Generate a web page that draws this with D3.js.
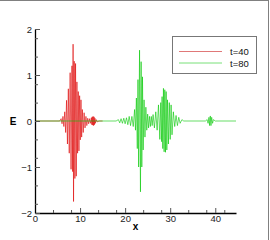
<!DOCTYPE html>
<html>
<head>
<meta charset="utf-8">
<script src="https://cdn.jsdelivr.net/npm/d3@7"></script>
<style>
  body { margin: 0; background: #fff; }
  svg { display: block; font-family: "Liberation Sans", Arial, sans-serif; }
</style>
</head>
<body>
<svg id="chart"></svg>
<script>
// chart size
const W = 270, H = 240;

// wave at t=40 (x, E), peak by peak
var redX = [0, 5.5, 5.8, 6.0, 6.2, 6.4, 6.6, 6.8, 7.0, 7.2, 7.4, 7.6, 7.8, 8.0, 8.2, 8.35, 8.45, 8.55, 8.7, 8.85,
  9.0, 9.15, 9.3, 9.45, 9.6, 9.75, 9.9, 10.05, 10.2, 10.35, 10.5, 10.7, 10.9, 11.1, 11.3, 11.5, 11.7, 11.9,
  12.1, 12.3, 12.5, 12.6, 12.7, 12.8, 12.9, 13.0, 13.1, 13.2, 13.3, 13.4, 13.6, 13.8, 14.2, 15];
var redE = [0, 0, 0.05, -0.06, 0.1, -0.12, 0.2, -0.25, 0.45, -0.5, 0.7, -0.7, 1.05, -1.05, 1.2, -1.1, 1.67, -1.75, 1.3, -1.25,
  1.25, -1.2, 0.85, -0.7, 0.64, -0.65, 0.55, -0.41, 0.46, -0.35, 0.25, -0.25, 0.18, -0.15, 0.1, -0.1, 0.06, -0.06,
  0.05, -0.05, 0.07, -0.08, 0.09, -0.09, 0.1, -0.1, 0.09, -0.08, 0.06, -0.05, 0.03, -0.02, 0, 0];

// wave at t=80
var greenX = [0, 18, 18.5, 18.8, 19.1, 19.4, 19.7, 20.0, 20.3, 20.6, 20.9, 21.2, 21.5, 21.8, 22.1, 22.3, 22.5, 22.7, 22.85, 23.0,
  23.2, 23.4, 23.55, 23.7, 23.85, 24.0, 24.2, 24.4, 24.6, 24.8, 25.0, 25.2, 25.4, 25.6, 25.8, 26.0, 26.2, 26.5, 26.8, 27.1,
  27.4, 27.7, 27.9, 28.1, 28.2, 28.35, 28.5, 28.65, 28.8, 28.95, 29.1, 29.25, 29.4, 29.6, 29.8, 30.0, 30.2, 30.4, 30.7, 31.0,
  31.3, 31.6, 31.9, 32.2, 32.6, 33, 37.8, 38.2, 38.4, 38.6, 38.75, 38.9, 39.05, 39.2, 39.4, 39.6, 40, 44.6];
var greenE = [0, 0, 0.03, -0.04, 0.05, -0.05, 0.06, -0.06, 0.07, -0.08, 0.1, -0.1, 0.1, -0.12, 0.25, -0.2, 0.5, -0.6, 0.9, -1.0,
  1.54, -1.54, 1.29, -1.0, 0.96, -0.63, 0.46, -0.35, 0.3, -0.2, 0.15, -0.15, 0.1, -0.12, 0.1, -0.1, 0.14, -0.15, 0.2, -0.2,
  0.35, -0.4, 0.4, -0.45, 0.53, -0.6, 0.71, -0.67, 0.68, -0.68, 0.64, -0.63, 0.46, -0.5, 0.4, -0.4, 0.35, -0.3, 0.2, -0.12,
  0.12, -0.1, 0.08, -0.05, 0.03, 0, 0, 0.03, -0.05, 0.08, -0.1, 0.11, -0.1, 0.08, -0.05, 0.03, 0, 0];

// ticks
var xMajor = [0, 10, 20, 30, 40],
    xMinor = [4, 8, 14, 18, 24, 28, 34, 38, 42];
var yMajor = [-2, -1, 0, 1, 2],
    yMinor = [-1.8, -1.4, -0.8, -0.4, 0.4, 0.8, 1.4, 1.8];

var seriesNames = ["t=40", "t=80"],
    seriesColors = ["#dd0000", "#00c800"],
    legendColors = ["#e07878", "#78e078"];

var xScale = d3.scaleLinear().domain([0, 44.6]).range([35, 236]),
    yScale = d3.scaleLinear().domain([-2, 2]).range([213, 29]);

var svg = d3.select("#chart")
    .attr("width", W)
    .attr("height", H);

// outer frame (only top and right edges show)
svg.append("rect")
    .attr("x", -2).attr("y", 0.5)
    .attr("width", 270.5).attr("height", 250)
    .attr("fill", "none")
    .attr("stroke", "#808080");

// data lines
var line = d3.line()
    .x(function(d) { return xScale(d[0]); })
    .y(function(d) { return yScale(d[1]); });

var series = [d3.zip(redX, redE), d3.zip(greenX, greenE)];
svg.selectAll(".wave")
    .data(series)
  .enter().append("path")
    .attr("class", "wave")
    .attr("d", line)
    .attr("fill", "none")
    .attr("stroke", function(d, i) { return seriesColors[i]; })
    .attr("stroke-width", 0.6);

// x axis, ticks pointing in
var xAxisG = svg.append("g")
    .attr("transform", "translate(0," + yScale(-2) + ")")
    .call(d3.axisBottom(xScale).tickValues(xMajor).tickSizeInner(-5).tickSizeOuter(0).tickPadding(2).tickFormat(d3.format("d")));
xAxisG.selectAll(".minor")
    .data(xMinor)
  .enter().append("line")
    .attr("class", "minor")
    .attr("x1", function(d) { return xScale(d) + 0.5; })
    .attr("x2", function(d) { return xScale(d) + 0.5; })
    .attr("y1", 0).attr("y2", -3)
    .attr("stroke", "#555");

// y axis
var yAxisG = svg.append("g")
    .attr("transform", "translate(" + xScale(0) + ",0)")
    .call(d3.axisLeft(yScale).tickValues(yMajor).tickSizeInner(-5).tickSizeOuter(0).tickPadding(3).tickFormat(d3.format("d")));
yAxisG.selectAll(".minor")
    .data(yMinor)
  .enter().append("line")
    .attr("class", "minor")
    .attr("x1", 0).attr("x2", 3)
    .attr("y1", function(d) { return yScale(d) + 0.5; })
    .attr("y2", function(d) { return yScale(d) + 0.5; })
    .attr("stroke", "#555");

[xAxisG, yAxisG].forEach(function(g) {
  g.select(".domain").attr("stroke", "#000").attr("stroke-width", 1.3);
  g.selectAll(".tick line").attr("stroke", "#555");
  g.selectAll(".tick text")
      .attr("font-size", 9.5)
      .attr("font-family", "'Liberation Sans', Arial, sans-serif")
      .attr("fill", "#222");
});

// axis titles
svg.append("text")
    .attr("x", 13).attr("y", 124.5)
    .attr("text-anchor", "middle")
    .attr("font-size", 10).attr("font-weight", "bold")
    .text("E");
svg.append("text")
    .attr("x", 135.5).attr("y", 230)
    .attr("text-anchor", "middle")
    .attr("font-size", 10).attr("font-weight", "bold")
    .text("x");

// legend
var legend = svg.append("g");
legend.append("rect")
    .attr("x", 172.5).attr("y", 36.5)
    .attr("width", 84).attr("height", 37)
    .attr("fill", "#fff")
    .attr("stroke", "#777");
var item = legend.selectAll(".item")
    .data(seriesNames)
  .enter().append("g")
    .attr("class", "item")
    .attr("transform", function(d, i) { return "translate(0," + (51.5 + i * 11.5) + ")"; });
item.append("line")
    .attr("x1", 179).attr("x2", 222)
    .attr("stroke", function(d, i) { return legendColors[i]; })
    .attr("stroke-width", 1);
item.append("text")
    .attr("x", 230).attr("y", 3.5)
    .attr("font-size", 9.5)
    .attr("fill", "#111")
    .text(function(d) { return d; });
</script>
</body>
</html>
